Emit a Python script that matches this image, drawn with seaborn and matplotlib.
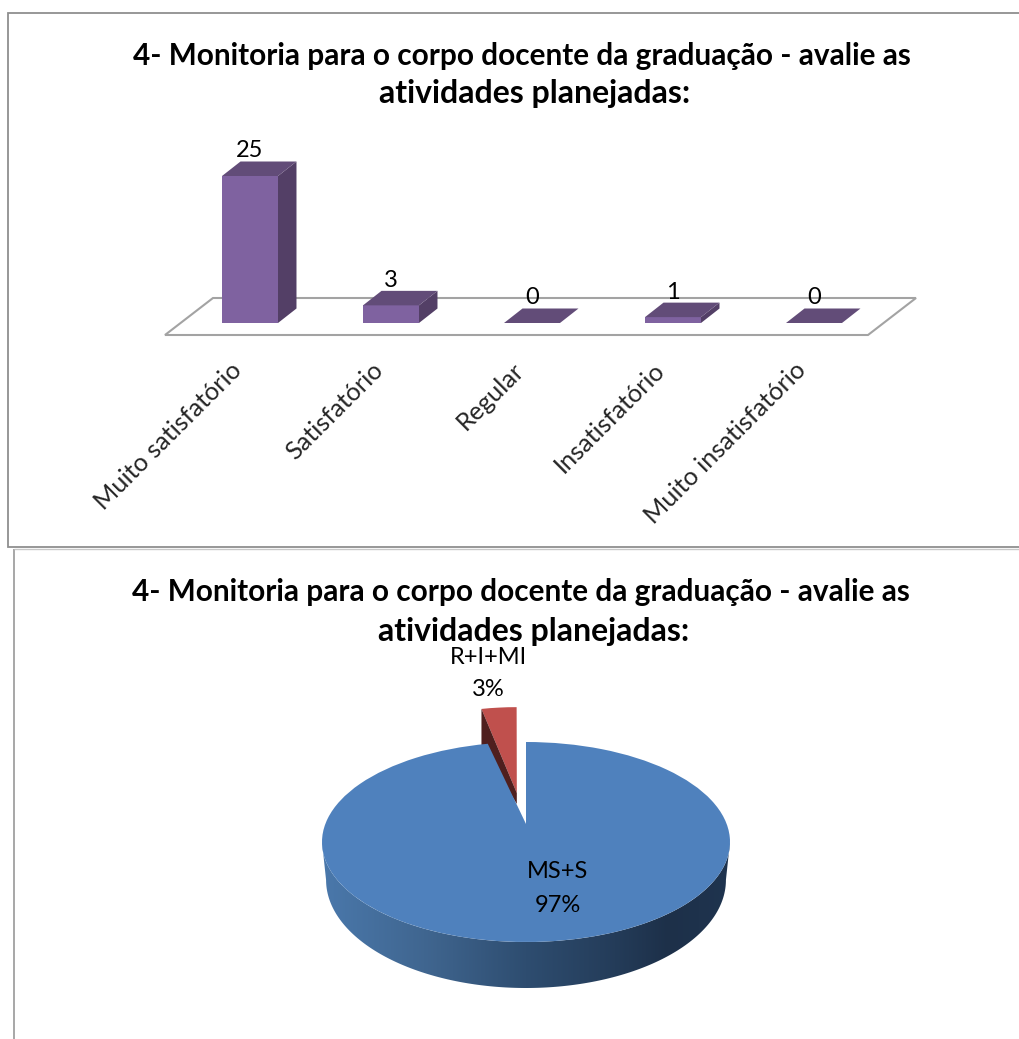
import numpy as np
import matplotlib
matplotlib.use("Agg")
import matplotlib.pyplot as plt
import seaborn as sns
from matplotlib.lines import Line2D
from matplotlib.patches import Polygon
from matplotlib.path import Path
from matplotlib.colors import LinearSegmentedColormap
from matplotlib.transforms import ScaledTranslation

title_lines = ["4- Monitoria para o corpo docente da graduação - avalie as", "atividades planejadas:"]
categories = ["Muito satisfatório", "Satisfatório", "Regular", "Insatisfatório", "Muito insatisfatório"]
counts = [25, 3, 0, 1, 0]
pie_labels = ["MS+S", "R+I+MI"]
pie_values = [97, 3]

W, H = 1019, 1039
sns.set_theme(style="white")
plt.rcParams["font.family"] = ["Lato", "DejaVu Sans"]
fig = plt.figure(figsize=(W / 100, H / 100), dpi=100, facecolor="white")


def axes_px(left, top, right, bottom):
    return fig.add_axes([left / W, 1 - bottom / H, (right - left) / W, (bottom - top) / H])


def text_px(x, y, s, **kw):
    fig.text(x / W, 1 - y / H, s, ha="center", va="center", color="black", **kw)


def line_px(xs, ys, color="#8f8f8f", lw=1.3):
    fig.add_artist(Line2D([x / W for x in xs], [1 - y / H for y in ys], color=color, lw=lw,
                          transform=fig.transFigure, solid_capstyle="butt", solid_joinstyle="miter"))


# outer frames
line_px([1019, 7.5, 7.5, 1019], [13, 13, 547, 547])
line_px([14, 14], [549, 1039], color="#a0a0a0")
line_px([14, 1019], [549, 549], color="#c8c8c8", lw=1)

# titles
TITLE = 21.4
TITLE2 = 23.0
text_px(522, 56, title_lines[0], fontsize=TITLE, fontweight="bold")
text_px(534.5, 94, title_lines[1], fontsize=TITLE2, fontweight="bold")
text_px(521, 592, title_lines[0], fontsize=TITLE, fontweight="bold")
text_px(534, 631, title_lines[1], fontsize=TITLE2, fontweight="bold")

# ---------- bar chart ----------
ax = axes_px(179.5, 176, 884.5, 323)
ax.patch.set_alpha(0)
sns.barplot(x=categories, y=counts, color="#7f62a0", saturation=1, width=0.397, ax=ax, zorder=3, linewidth=0)
ax.set_xlim(-0.5, 4.5)
ax.set_ylim(0, 25)
ax.set_xlabel("")
ax.set_ylabel("")
ax.set_yticks([])
sns.despine(ax=ax, left=True, bottom=True)
ax.tick_params(axis="x", length=0, pad=0)
ax.set_xticks(range(len(categories)))
ax.set_xticklabels(categories, rotation=45, ha="right", rotation_mode="anchor", fontsize=18.2)
shift = ScaledTranslation(-20 / 100, -35 / 100, fig.dpi_scale_trans)
for lab in ax.get_xticklabels():
    lab.set_transform(lab.get_transform() + shift)

px_x, px_y = 1 / 141, 25 / 147
dx, dy = 18.5 * px_x, 14.5 * px_y

# floor drawn from the category scale
fx0, fx1 = (165 - 250) * px_x, (868 - 250) * px_x
fy0 = (323 - 335) * px_y
fy1 = (323 - 298) * px_y
fslant = 48 * px_x
ax.add_patch(Polygon([(fx0, fy0), (fx1, fy0), (fx1 + fslant, fy1), (fx0 + fslant, fy1)], closed=True,
                     fill=False, ec="#a3a3a3", lw=1.5, clip_on=False, zorder=1))

for bar in ax.containers[0]:
    x0, w, h = bar.get_x(), bar.get_width(), bar.get_height()
    x1 = x0 + w
    bar.set_clip_on(False)
    ax.add_patch(Polygon([(x0, h), (x1, h), (x1 + dx, h + dy), (x0 + dx, h + dy)], closed=True,
                         fc="#624c78", ec="none", clip_on=False, zorder=4))
    ax.add_patch(Polygon([(x1, 0), (x1 + dx, dy), (x1 + dx, h + dy), (x1, h)], closed=True,
                         fc="#533f66", ec="none", clip_on=False, zorder=2.5))

labels = ax.bar_label(ax.containers[0], padding=10.5, fontsize=17, color="black")
for t in labels:
    t.set_clip_on(False)
    t.set_zorder(6)

# ---------- pie chart ----------
pax = axes_px(322, 642, 730, 1042)
wedges, _ = pax.pie(pie_values, startangle=90, counterclock=False, explode=[0, 0.35],
                    colors=["#4f81bd", "#c0504d"], radius=1, center=(0, 0),
                    wedgeprops=dict(linewidth=0))
pax.set_aspect("auto")
pax.axis("off")


def move_apex(wedge, apex, offset=(0.0, 0.0), squeeze=1.0):
    path = wedge.get_path()
    v = np.array(path.vertices, dtype=float)
    c = np.array(wedge.center, dtype=float)
    is_apex = np.hypot(*(v - c).T) < 1e-6
    v = v + np.array(offset)
    right = v[~is_apex, 0].max()
    v[:, 0] = right + (v[:, 0] - right) * squeeze
    v[is_apex] = apex
    wedge._path = Path(v, path.codes)
    return v[~is_apex]


blue, red = wedges
move_apex(blue, (0.0, 0.18))
red_arc = move_apex(red, (-0.045, 0.49), offset=(-0.013, 0.0), squeeze=0.92)
left_pt = red_arc[np.argmin(red_arc[:, 0])]
blue.set_zorder(5)
red.set_zorder(3)
pax.add_patch(Polygon([tuple(left_pt), (left_pt[0], 0.96), (-0.045, 0.38), (-0.045, 0.49)], closed=True,
                      fc="#4f1f1e", ec="none", clip_on=False, zorder=4))
blue.set_clip_on(False)
red.set_clip_on(False)

# side wall of the disc with a horizontal shading
theta = np.linspace(np.pi, 2 * np.pi, 200)
top_edge = np.c_[np.cos(theta), np.sin(theta)]
low_edge = np.c_[0.98 * np.cos(theta[::-1]), -0.38 + 1.08 * np.sin(theta[::-1])]
wall = Polygon(np.r_[top_edge, low_edge], closed=True, transform=pax.transData, fc="none", ec="none")
pax.add_patch(wall)
shade = LinearSegmentedColormap.from_list("wall", [(0, "#4a78ab"), (0.25, "#406690"), (0.5, "#2e4d70"),
                                                    (0.72, "#243c59"), (0.85, "#1d3049"), (1, "#1f344f")])
im = pax.imshow(np.linspace(0, 1, 256)[None, :], extent=(-1, 1, -1.6, 0.1), cmap=shade, aspect="auto",
                zorder=2, interpolation="bilinear")
im.set_clip_path(wall)
pax.set_xlim(-1, 1)
pax.set_ylim(-2, 2)

text_px(558, 872, pie_labels[0], fontsize=17)
text_px(558, 906, f"{pie_values[0]}%", fontsize=17)
text_px(488, 657, pie_labels[1], fontsize=17)
text_px(488, 689, f"{pie_values[1]}%", fontsize=17)

fig.savefig("out.png", dpi=100, facecolor="white")
